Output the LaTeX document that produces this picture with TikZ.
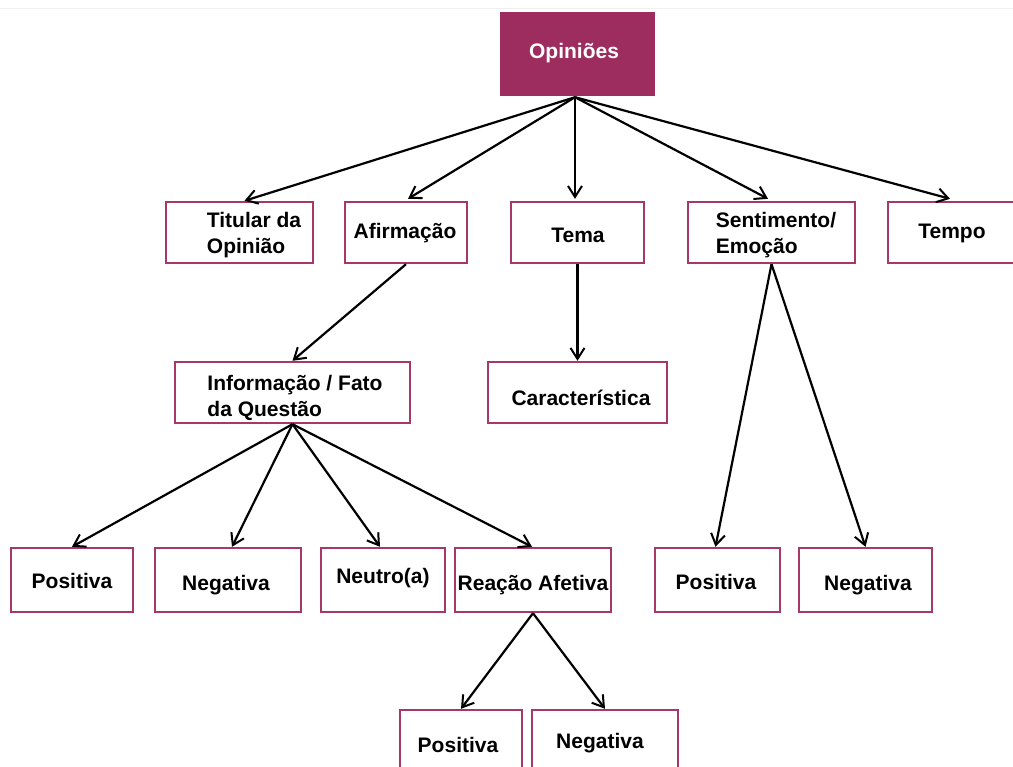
\documentclass[tikz,border=0pt]{standalone}
\usepackage{fontspec}
\setmainfont{Liberation Sans}
\usetikzlibrary{arrows.meta}
\definecolor{wine}{RGB}{158,45,95}
\definecolor{wineline}{RGB}{165,55,105}
\tikzset{
  box/.style={draw=wineline, line width=2.4pt, fill=white, inner sep=0pt},
  rootbox/.style={fill=wine, draw=wine, inner sep=0pt},
  lbl/.style={font=\bfseries\fontsize{21}{26}\selectfont, inner sep=0pt, align=left, yshift=-2pt},
  link/.style={line width=2.2pt, -{Straight Barb[length=11pt,width=14pt,line width=2pt]}}
}
\newcommand{\boxat}[5]{%
  \node[box, minimum width=#4pt, minimum height=#5pt] (#1) at (#2,#3) {};}
\begin{document}
\begin{tikzpicture}[x=1pt,y=-1pt]
\useasboundingbox[fill=white] (0,0) rectangle (1013,767);
\draw[gray!12, line width=1pt] (0,9) -- (1013,9);

% root
\node[rootbox, minimum width=154pt, minimum height=83pt] (root) at (577,53.5) {};
\node[lbl, text=white] (root-t) at (574,51) {Opiniões};

% first level
\boxat{tit}{239.5}{232.5}{147}{61}
\boxat{afi}{406}{232.5}{122}{61}
\boxat{tem}{577.5}{232.5}{133}{61}
\boxat{sen}{771.5}{232.5}{167}{61}
\boxat{tmp}{954}{232.5}{132}{61}
\node[lbl] (tit-t) at (254,233) {Titular da\\Opinião};
\node[lbl] (afi-t) at (405,231) {Afirmação};
\node[lbl] (tem-t) at (578,233) {Tema};
\node[lbl] (sen-t) at (776,233) {Sentimento/\\Emoção};
\node[lbl] (tmp-t) at (952,231) {Tempo};

% second level
\boxat{inf}{292.5}{392.5}{235}{61}
\boxat{car}{577.5}{392.5}{179}{61}
\node[lbl] (inf-t) at (295,396) {Informação / Fato\\da Questão};
\node[lbl] (car-t) at (581,396) {Característica};

% third level
\boxat{pos}{72}{580}{122}{64}
\boxat{neg}{228}{580}{146}{64}
\boxat{neu}{383}{580}{124}{64}
\boxat{rea}{533}{580}{156}{64}
\boxat{posr}{717.5}{580}{125}{64}
\boxat{negr}{865.5}{580}{133}{64}
\node[lbl] (pos-t) at (72,579) {Positiva};
\node[lbl] (neg-t) at (226,583) {Negativa};
\node[lbl] (neu-t) at (383,576) {Neutro(a)};
\node[lbl] (rea-t) at (533,583) {Reação Afetiva};
\node[lbl] (posr-t) at (716,580) {Positiva};
\node[lbl] (negr-t) at (868,583) {Negativa};

% fourth level
\boxat{posb}{461}{745}{122}{70}
\boxat{negb}{605}{745}{146}{70}
\node[lbl] (posb-t) at (458,743) {Positiva};
\node[lbl] (negb-t) at (600,741) {Negativa};

% connectors
\coordinate (hub) at ([xshift=-2pt,yshift=-2pt]root.south);
\draw[link] (hub) -- ([xshift=5pt]tit.north);
\draw[link] (hub) -- ([xshift=2pt,yshift=2pt]afi.north);
\draw[link] (hub) -- ([xshift=-2.5pt,yshift=2pt]tem.north);
\draw[link] (hub) -- ([xshift=-3.5pt,yshift=2pt]sen.north);
\draw[link] (hub) -- ([xshift=-4pt,yshift=2pt]tmp.north);
\draw[link] (afi.south) -- (inf.north);
\draw[link] (tem.south) -- (car.north);
\draw[link] (sen.south) -- ([xshift=-2pt]posr.north);
\draw[link] (sen.south) -- (negr.north);
\draw[link] (inf.south) -- (pos.north);
\draw[link] (inf.south) -- ([xshift=4pt]neg.north);
\draw[link] (inf.south) -- ([xshift=-3pt]neu.north);
\draw[link] (inf.south) -- ([xshift=-1pt]rea.north);
\draw[link] (rea.south) -- (posb.north);
\draw[link] (rea.south) -- (negb.north);
\end{tikzpicture}
\end{document}
